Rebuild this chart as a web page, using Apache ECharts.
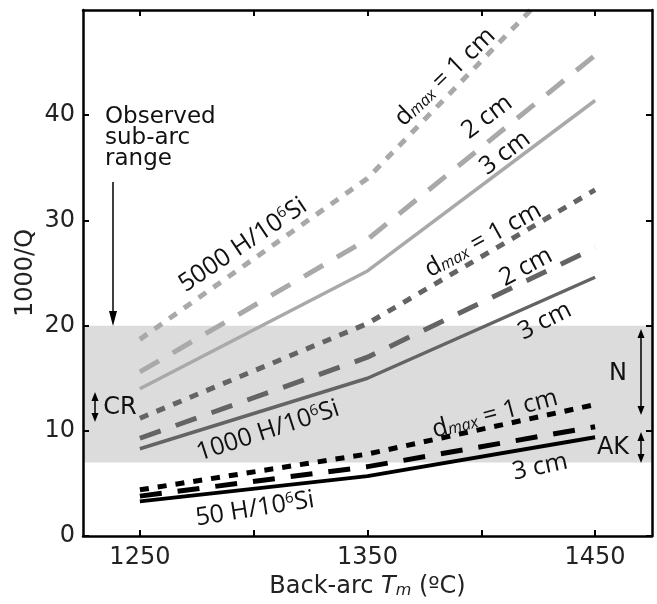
<!DOCTYPE html>
<html>
<head>
<meta charset="utf-8">
<script src="https://cdn.jsdelivr.net/npm/echarts@6/dist/echarts.min.js"></script>
<style>html,body{margin:0;padding:0;background:#fff}#c{width:657px;height:604px}</style>
</head>
<body>
<div id="c"></div>
<script>
// ---- data ----
const temps = [1250, 1350, 1450];
const h5000_1cm = [18.7, 34.0, 56.3];
const h5000_2cm = [15.6, 28.2, 45.7];
const h5000_3cm = [14.0, 25.2, 41.4];
const h1000_1cm = [11.2, 20.2, 32.9];
const h1000_2cm = [9.3, 17.0, 27.4];
const h1000_3cm = [8.3, 15.0, 24.6];
const h50_1cm = [4.4, 7.8, 12.5];
const h50_2cm = [3.8, 6.6, 10.4];
const h50_3cm = [3.3, 5.7, 9.4];
const xTicks = [1250, 1300, 1350, 1400, 1450];
const xLabels = [1250, 1350, 1450];
const yTicks = [0, 10, 20, 30, 40];
const bandRange = [7, 20];

const LIGHT = '#a9a9a9', MID = '#646464', BLACK = '#000000';
const DOT = [9, 9], DASH = [22, 16];

function mk(name, vals, color, type, width) {
  return {
    name: name, type: 'line', z: 3, symbol: 'none', clip: true, animation: false,
    data: temps.map((t, i) => [t, vals[i]]),
    lineStyle: { color: color, width: width, type: type, cap: 'butt' }
  };
}

const chart = echarts.init(document.getElementById('c'), null, { renderer: 'canvas' });
const FF = 'DejaVu Sans';
const LF = 'Open Sans';
const LS = 25;

function axisCommon(extra) {
  return Object.assign({
    type: 'value', z: 10,
    axisLine: { show: true, onZero: false, lineStyle: { color: '#000', width: 2.5 } },
    splitLine: { show: false }
  }, extra);
}

function rotText(x, y, deg, text, rich) {
  return {
    type: 'text', x: x, y: y, rotation: deg * Math.PI / 180, z: 50,
    style: {
      text: text, align: 'center', verticalAlign: 'middle',
      fill: '#111', font: LS + 'px "Open Sans"', rich: rich
    }
  };
}
const richD = {
  d: { fontSize: LS, fontFamily: LF, color: '#111', verticalAlign: 'bottom' },
  m: { fontSize: 16, fontFamily: LF, fontStyle: 'italic', color: '#111', verticalAlign: 'bottom', padding: [0, 0, 1, 0] },
  n: { fontSize: LS, fontFamily: LF, color: '#111', verticalAlign: 'bottom' }
};
const richH = {
  n: { fontSize: LS, fontFamily: LF, color: '#111', verticalAlign: 'bottom' },
  s: { fontSize: 15, fontFamily: LF, color: '#111', verticalAlign: 'top' }
};
function dmaxText(x, y, deg) { return rotText(x, y, deg, '{d|d}{m|max}{n| = 1 cm}', richD); }
function hText(x, y, deg, num) { return rotText(x, y, deg, '{n|' + num + ' H/10}{s|6}{n|Si}', richH); }
function cmText(x, y, deg, s) { return rotText(x, y, deg, '{n|' + s + '}', richH); }

function vline(x, y1, y2) {
  return { type: 'line', z: 50, shape: { x1: x, y1: y1, x2: x, y2: y2 }, style: { stroke: '#000', lineWidth: 1.5 } };
}
function head(x, y, dir, w, h) { // dir 1 = pointing down, -1 = up
  return { type: 'polygon', z: 50, shape: { points: [[x, y], [x - w / 2, y - dir * h], [x + w / 2, y - dir * h]] }, style: { fill: '#000' } };
}
function dbl(x, y1, y2) {
  return [vline(x, y1 + 4, y2 - 4), head(x, y1, -1, 7, 9), head(x, y2, 1, 7, 9)];
}
function plainText(x, y, t) {
  return { type: 'text', x: x, y: y, z: 50, style: { text: t, align: 'center', verticalAlign: 'middle', fill: '#111', font: '24px "DejaVu Sans"' } };
}

const option = {
  animation: false,
  backgroundColor: '#fff',
  grid: { left: 83, right: 5, top: 10, bottom: 67, containLabel: false },
  xAxis: [
    axisCommon({
      min: 1225, max: 1475, position: 'bottom',
      axisTick: { show: true, inside: true, length: 6, customValues: xTicks, lineStyle: { color: '#000', width: 2 } },
      axisLabel: { customValues: xLabels, formatter: v => String(v), fontSize: 24, fontFamily: FF, color: '#222', margin: 10 },
      name: '{a|Back-arc }{t|T}{m|m}{a| (ºC)}', nameLocation: 'middle', nameGap: 38,
      nameTextStyle: {
        rich: {
          a: { fontSize: 24, fontFamily: FF, color: '#222', verticalAlign: 'bottom' },
          t: { fontSize: 24, fontFamily: FF, fontStyle: 'italic', color: '#222', verticalAlign: 'bottom' },
          m: { fontSize: 16, fontFamily: FF, fontStyle: 'italic', color: '#222', verticalAlign: 'bottom' }
        }
      }
    }),
    axisCommon({
      min: 1225, max: 1475, position: 'top',
      axisTick: { show: true, inside: true, length: 6, customValues: xTicks, lineStyle: { color: '#000', width: 2 } },
      axisLabel: { show: false }
    })
  ],
  yAxis: [
    axisCommon({
      min: 0, max: 50, position: 'left',
      axisTick: { show: true, inside: true, length: 6, customValues: yTicks, lineStyle: { color: '#000', width: 2 } },
      axisLabel: { customValues: yTicks, formatter: v => String(v), fontSize: 24, fontFamily: FF, color: '#222', margin: 8 }
    }),
    axisCommon({
      min: 0, max: 50, position: 'right',
      axisTick: { show: true, inside: true, length: 6, customValues: yTicks, lineStyle: { color: '#000', width: 2 } },
      axisLabel: { show: false }
    })
  ],
  series: [
    {
      name: 'band', type: 'line', z: 1, data: [], silent: true,
      markArea: { silent: true, itemStyle: { color: '#dcdcdc' }, data: [[{ yAxis: bandRange[0] }, { yAxis: bandRange[1] }]] }
    },
    mk('5000 1cm', h5000_1cm, LIGHT, DOT, 5),
    mk('5000 2cm', h5000_2cm, LIGHT, DASH, 5),
    mk('5000 3cm', h5000_3cm, LIGHT, 'solid', 3.5),
    mk('1000 1cm', h1000_1cm, MID, DOT, 5),
    mk('1000 2cm', h1000_2cm, MID, DASH, 5),
    mk('1000 3cm', h1000_3cm, MID, 'solid', 3.5),
    mk('50 1cm', h50_1cm, BLACK, DOT, 5),
    mk('50 2cm', h50_2cm, BLACK, DASH, 5),
    mk('50 3cm', h50_3cm, BLACK, 'solid', 4)
  ],
  graphic: [
    { type: 'text', x: 26, y: 273, rotation: Math.PI / 2, z: 50, style: { text: '1000/Q', align: 'center', verticalAlign: 'middle', fill: '#222', font: '24px "DejaVu Sans"' } },
    { type: 'text', x: 105, y: 107, z: 50, style: { text: 'Observed\nsub-arc\nrange', fill: '#111', font: '23px "DejaVu Sans"', lineHeight: 21, align: 'left', verticalAlign: 'top' } },
    vline(113, 182, 312),
    head(113, 326, 1, 8, 15),
    ...dbl(95, 392, 422),
    plainText(120, 408, 'CR'),
    ...dbl(641, 329, 415),
    plainText(618, 374, 'N'),
    ...dbl(641, 432, 463),
    plainText(613, 448, 'AK'),
    hText(243, 245, 34, '5000'),
    dmaxText(445, 77, 44),
    cmText(487, 117, 37, '2 cm'),
    cmText(505, 153, 37, '3 cm'),
    dmaxText(483, 240, 29),
    cmText(526, 267, 28, '2 cm'),
    cmText(545, 321, 27, '3 cm'),
    hText(268, 431, 18, '1000'),
    dmaxText(495, 414, 15),
    cmText(540, 467, 12, '3 cm'),
    hText(255, 509, 9, '50')
  ]
};
chart.setOption(option);
</script>
</body>
</html>
